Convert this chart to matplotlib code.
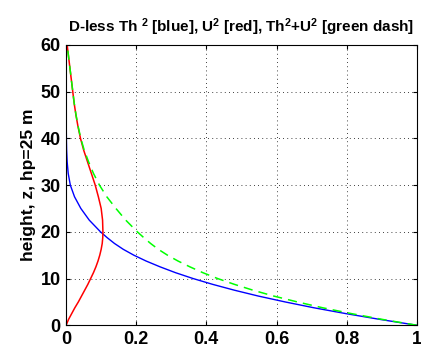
import matplotlib
matplotlib.use("Agg")
import matplotlib.pyplot as plt

# heights (m) and dimensionless profiles
z = [0, 1.25, 2.5, 3.75, 5, 6.25, 7.5, 8.75, 10, 11.25, 12.5, 13.75, 15,
     16.25, 17.5, 18.75, 20, 22.5, 25, 27.5, 30, 32.5, 35, 37.5, 40, 42.5,
     45, 47.5, 50, 52.5, 55, 57.5, 60]
th2 = [1.0, 0.895, 0.797, 0.706, 0.624, 0.548, 0.48, 0.418, 0.362, 0.312,
       0.268, 0.228, 0.193, 0.163, 0.138, 0.117, 0.098, 0.066, 0.042, 0.024,
       0.012, 0.006, 0.003, 0.0015, 0.0008, 0.0005, 0.0003, 0.0002, 0.0001,
       0.0, 0.0, 0.0, 0.0]
u2 = [0.0, 0.007, 0.016, 0.025, 0.035, 0.044, 0.053, 0.062, 0.07, 0.078,
      0.085, 0.091, 0.096, 0.1, 0.103, 0.1045, 0.105, 0.104, 0.1, 0.092,
      0.083, 0.072, 0.061, 0.05, 0.041, 0.034, 0.028, 0.023, 0.019, 0.015,
      0.011, 0.007, 0.003]
tot = [1.0, 0.902, 0.813, 0.731, 0.659, 0.592, 0.533, 0.48, 0.432, 0.39,
       0.353, 0.319, 0.289, 0.263, 0.241, 0.2215, 0.203, 0.17, 0.142, 0.116,
       0.095, 0.078, 0.064, 0.0515, 0.0418, 0.0345, 0.0283, 0.0232, 0.0191,
       0.015, 0.011, 0.007, 0.003]

xticks = [0, 0.2, 0.4, 0.6, 0.8, 1]
xlabels = ["0", "0.2", "0.4", "0.6", "0.8", "1"]
yticks = [0, 10, 20, 30, 40, 50, 60]

plt.rcParams['font.family'] = ['Liberation Sans', 'DejaVu Sans']
plt.rcParams['mathtext.fontset'] = 'custom'
plt.rcParams['mathtext.rm'] = 'Liberation Sans:bold'
plt.rcParams['mathtext.it'] = 'Liberation Sans:bold'
plt.rcParams['mathtext.bf'] = 'Liberation Sans:bold'

fig = plt.figure(figsize=(4.21, 3.59), dpi=100)
ax = fig.add_axes([0.157, 0.094, 0.833, 0.781])

ax.plot(th2, z, color='b', lw=1.0)
ax.plot(u2, z, color='r', lw=1.1)
ax.plot(tot, z, color='#00ff00', lw=1.1, dashes=(6, 4))

ax.set_xlim(0, 1)
ax.set_ylim(0, 60)
ax.set_xticks(xticks)
ax.set_xticklabels(xlabels)
ax.set_yticks(yticks)

ax.grid(True, color='k', lw=0.6, linestyle=(0, (1, 4)))
ax.tick_params(direction='in', length=3, top=True, right=True,
               labelsize=13, pad=4)
for lab in ax.get_xticklabels() + ax.get_yticklabels():
    lab.set_fontweight('bold')
for s in ax.spines.values():
    s.set_linewidth(0.8)

ax.set_ylabel("height, z, hp=25 m", fontsize=12.5, fontweight='bold', labelpad=3)
ax.set_title("D-less Th $^2$ [blue], U$^2$ [red], Th$^2$+U$^2$ [green dash]",
             fontsize=11, fontweight='bold', pad=9)

fig.savefig("out.png", dpi=100)
